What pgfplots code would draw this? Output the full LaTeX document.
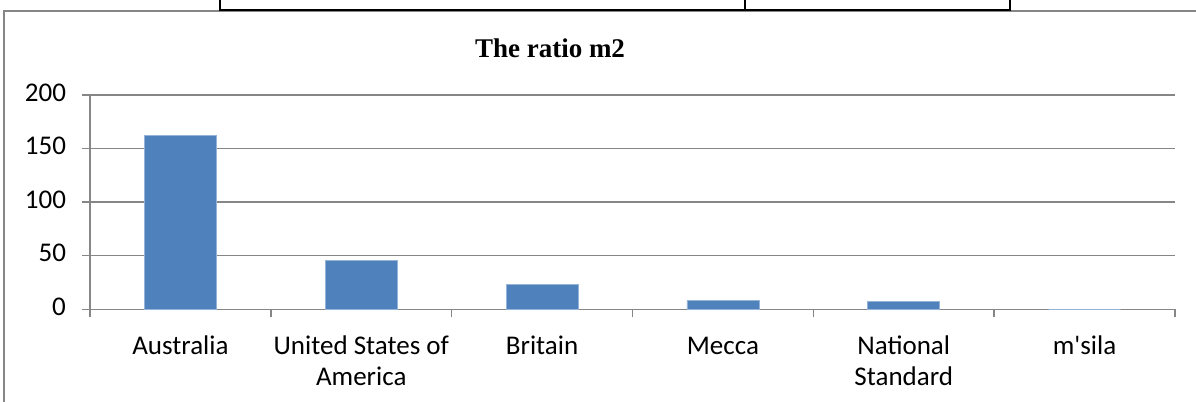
\documentclass[border=0pt]{standalone}
\usepackage{fontspec}
\setmainfont{Carlito}
\newfontfamily\titlefont{Liberation Serif}
\usepackage{pgfplots}
\pgfplotsset{compat=1.18}
\definecolor{barblue}{RGB}{79,129,189}
\definecolor{axgray}{RGB}{134,134,134}
\begin{document}
\begin{tikzpicture}[x=1pt,y=1pt]
\useasboundingbox (0,0) rectangle (598,201);
\fill[white] (0,0) rectangle (598,201);
\draw[axgray, line width=0.8pt] (2,0) -- (2,195.5) -- (598,195.5);
\draw[black, line width=0.9pt] (110,201) -- (110,196) -- (505,196) -- (505,201);
\draw[black, line width=0.9pt] (372.5,196) -- (372.5,201);
\node[font=\titlefont\bfseries\fontsize{13.5}{16}\selectfont] at (275,177) {The ratio m2};
\begin{axis}[
  at={(45pt,46.35pt)}, anchor=south west,
  scale only axis, width=542.5pt, height=107.15pt,
  xmin=-0.5, xmax=5.5, ymin=0, ymax=200,
  axis lines*=left,
  axis line style={axgray, line width=0.75pt},
  xtick={0,1,2,3,4,5},
  xticklabels={Australia,{United States of\\America},Britain,Mecca,{National\\Standard},m\textquotesingle sila},
  minor xtick={-0.5,0.5,1.5,2.5,3.5,4.5,5.5},
  ytick={0,50,100,150,200},
  major x tick style={draw=none},
  tick style={axgray, line width=0.75pt},
  tick align=outside, tick pos=left,
  major tick length=4pt, minor tick length=4pt,
  ymajorgrids, grid style={axgray, line width=0.75pt},
  /pgf/number format/assume math mode=true,
  ticklabel style={font=\fontsize{13.5}{15.5}\selectfont},
  typeset ticklabels with strut,
  xticklabel style={align=center, yshift=-4.3pt},
  yticklabel style={xshift=-4.5pt},
  clip=false,
]
\addplot[ybar, bar width=36pt, fill=barblue, draw=barblue!60!white, line width=0.4pt] coordinates {(0,162) (1,46) (2,23) (3,8) (4,7) (5,0)};
\end{axis}
\end{tikzpicture}
\end{document}
